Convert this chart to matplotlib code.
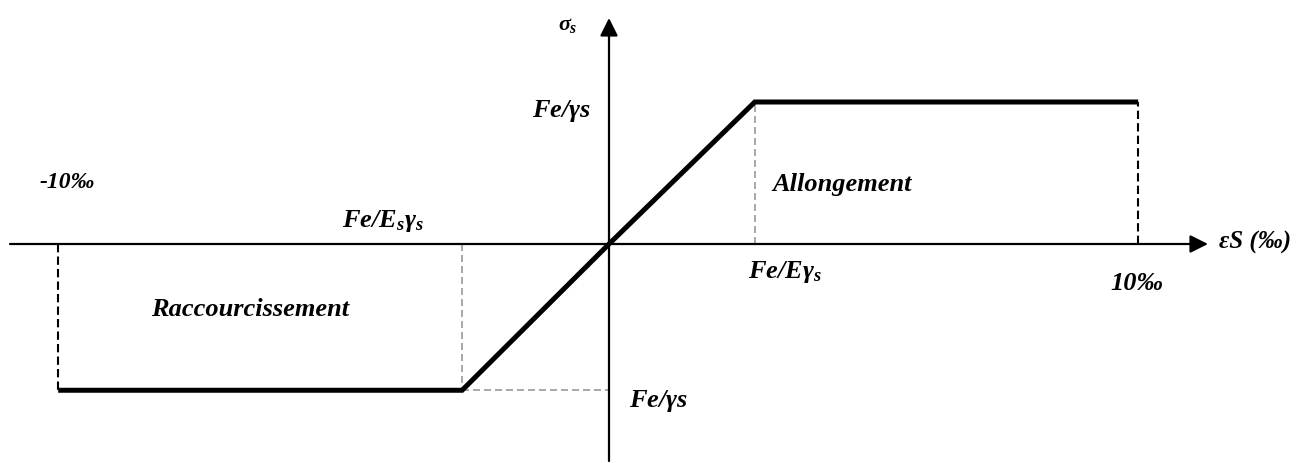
import matplotlib
matplotlib.use("Agg")
import matplotlib.pyplot as plt

plt.rcParams['mathtext.fontset'] = 'custom'
plt.rcParams['mathtext.rm'] = 'Liberation Serif:bold:italic'
plt.rcParams['mathtext.it'] = 'Liberation Serif:bold:italic'
plt.rcParams['mathtext.bf'] = 'Liberation Serif:bold:italic'

# --- data (schematic steel stress-strain diagram) ---
strain_points = [-10.2, -2.72, 0.0, 2.7, 9.8]      # ‰
stress_points = [-1.03, -1.03, 0.0, 1.0, 1.0]      # in units of Fe/γs
eps_min, eps_yc, eps_yt, eps_max = -10.2, -2.72, 2.7, 9.8
sig_c, sig_t = -1.03, 1.0

W, H = 1307, 464
X0, Y0, SX, SY = 609, 245, 54.0, 142.0   # pixel of origin and scale


def px(x, y):
    return (x - X0) / SX, (Y0 - y) / SY


fig = plt.figure(figsize=(W / 100, H / 100), dpi=100)
ax = fig.add_axes([0, 0, 1, 1])
ax.set_xlim(-X0 / SX, (W - X0) / SX)
ax.set_ylim((Y0 - H) / SY, Y0 / SY)
ax.axis('off')

# axes with arrows
arrow = dict(arrowstyle='-|>,head_length=0.4,head_width=0.2', lw=1.6,
             color='black', mutation_scale=27, shrinkA=0, shrinkB=0)
ax.annotate('', xy=px(1208, Y0), xytext=px(10, Y0), arrowprops=arrow)
ax.annotate('', xy=px(X0, 19), xytext=px(X0, 462), arrowprops=arrow)

# dashed guide lines
ax.plot([eps_min, eps_min], [0, sig_c], color='black', lw=1.5,
        linestyle=(0, (4, 2)))
ax.plot([eps_max, eps_max], [0, sig_t], color='black', lw=1.5,
        linestyle=(0, (4, 2)))
gray = '#9a9a9a'
ax.plot([eps_yc, eps_yc], [0, sig_c], color=gray, lw=1.2,
        linestyle=(0, (4.2, 2.4)))
ax.plot([eps_yc, 0], [sig_c, sig_c], color=gray, lw=1.2,
        linestyle=(0, (4.2, 2.4)))
ax.plot([eps_yt, eps_yt], [0, sig_t], color=gray, lw=1.2,
        linestyle=(0, (4.2, 2.4)))

# main curve
ax.plot(strain_points, stress_points, color='black', lw=3.6,
        solid_joinstyle='miter', solid_capstyle='butt', zorder=5)

# texts
tf = dict(family='Liberation Serif', weight='bold', style='italic',
          ha='center', va='center', color='black')
ax.text(*px(568, 25), r'$σ_s$', fontsize=16, **tf)
ax.text(*px(562, 111), r'$Fe/γs$', fontsize=19, **tf)
ax.text(*px(67, 183), '-10‰', fontsize=17, **tf)
ax.text(*px(383, 221), r'$Fe/E_sγ_s$', fontsize=19, **tf)
ax.text(*px(842, 184), 'Allongement', fontsize=19, **tf)
ax.text(*px(1255, 242), 'εS (‰)', fontsize=18, **tf)
ax.text(*px(785, 272), r'$Fe/Eγ_s$', fontsize=19, **tf)
ax.text(*px(1137, 284), '10‰', fontsize=19, **tf)
ax.text(*px(250, 310), 'Raccourcissement', fontsize=19, **tf)
ax.text(*px(659, 401), r'$Fe/γs$', fontsize=19, **tf)

fig.savefig('out.png', dpi=100)
